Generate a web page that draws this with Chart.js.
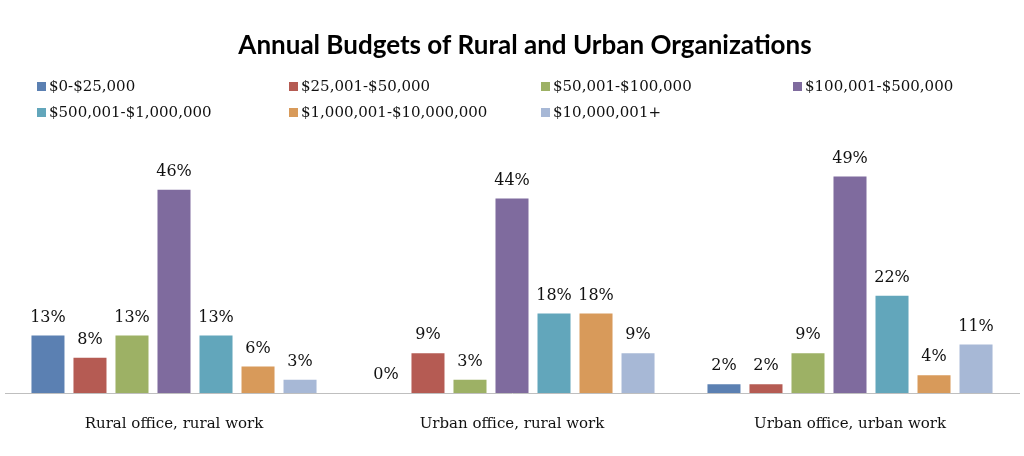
<!DOCTYPE html>
<html>
<head>
<meta charset="utf-8">
<script src="https://cdn.jsdelivr.net/npm/chart.js@4.4.0/dist/chart.umd.min.js"></script>
<style>
html,body{margin:0;padding:0;background:#fff;}
#wrap{width:1024px;height:456px;position:relative;}
</style>
</head>
<body>
<div id="wrap"><canvas id="c" width="1024" height="456"></canvas></div>
<script>
const chartTitle = "Annual Budgets of Rural and Urban Organizations";
const categories = ["Rural office, rural work", "Urban office, rural work", "Urban office, urban work"];
const seriesLabels = ["$0-$25,000", "$25,001-$50,000", "$50,001-$100,000", "$100,001-$500,000",
  "$500,001-$1,000,000", "$1,000,001-$10,000,000", "$10,000,001+"];
const budget0to25k = [13, 0, 2];
const budget25kto50k = [8, 9, 2];
const budget50kto100k = [13, 3, 9];
const budget100kto500k = [46, 44, 49];
const budget500kto1m = [13, 18, 22];
const budget1mto10m = [6, 18, 4];
const budget10mPlus = [3, 9, 11];
const seriesValues = [budget0to25k, budget25kto50k, budget50kto100k, budget100kto500k,
  budget500kto1m, budget1mto10m, budget10mPlus];
const seriesColors = ["#5B80B2", "#B55B53", "#9DB165", "#7F6B9E", "#62A6BB", "#D89A5A", "#A7B8D6"];

const SERIF = "'DejaVu Serif', serif";

const overlayPlugin = {
  id: 'overlay',
  afterDraw(chart) {
    const ctx = chart.ctx;
    ctx.save();
    // Title
    ctx.fillStyle = '#000';
    ctx.font = "bold 26px Lato, 'Open Sans', sans-serif";
    ctx.textAlign = 'center';
    ctx.textBaseline = 'middle';
    ctx.fillText(chartTitle, 525, 46);
    // Legend (4 columns)
    ctx.font = "15px " + SERIF;
    ctx.textAlign = 'left';
    const colX = [37, 289, 541, 793];
    const rowY = [87, 113];
    chart.data.datasets.forEach((ds, i) => {
      const x = colX[i % 4], y = rowY[Math.floor(i / 4)];
      ctx.fillStyle = ds.backgroundColor;
      ctx.fillRect(x, y - 5, 9, 9);
      ctx.fillStyle = '#111';
      ctx.fillText(ds.label, x + 12, y);
    });
    // Data labels
    ctx.font = "16px " + SERIF;
    ctx.textAlign = 'center';
    ctx.fillStyle = '#111';
    chart.data.datasets.forEach((ds, i) => {
      const meta = chart.getDatasetMeta(i);
      meta.data.forEach((bar, j) => {
        ctx.fillText(ds.data[j] + '%', bar.x, bar.y - 18);
      });
    });
    ctx.restore();
  }
};

new Chart(document.getElementById('c'), {
  type: 'bar',
  data: {
    labels: categories,
    datasets: seriesLabels.map((lab, i) => ({
      label: lab,
      data: seriesValues[i],
      backgroundColor: seriesColors[i],
      borderWidth: 0,
      barPercentage: 0.786,
      categoryPercentage: 0.87
    }))
  },
  options: {
    responsive: false,
    animation: false,
    layout: { padding: { top: 172, left: 5, right: 5, bottom: 0 } },
    plugins: { legend: { display: false }, title: { display: false }, tooltip: { enabled: false } },
    scales: {
      y: { display: false, min: 0, max: 50 },
      x: {
        grid: { display: false, drawTicks: false },
        border: { display: true, color: '#BFBFBF', width: 1 },
        ticks: { color: '#111', font: { family: SERIF, size: 15 }, padding: 22 },
        afterFit(scale) { scale.height = 63; }
      }
    }
  },
  plugins: [overlayPlugin]
});
</script>
</body>
</html>
